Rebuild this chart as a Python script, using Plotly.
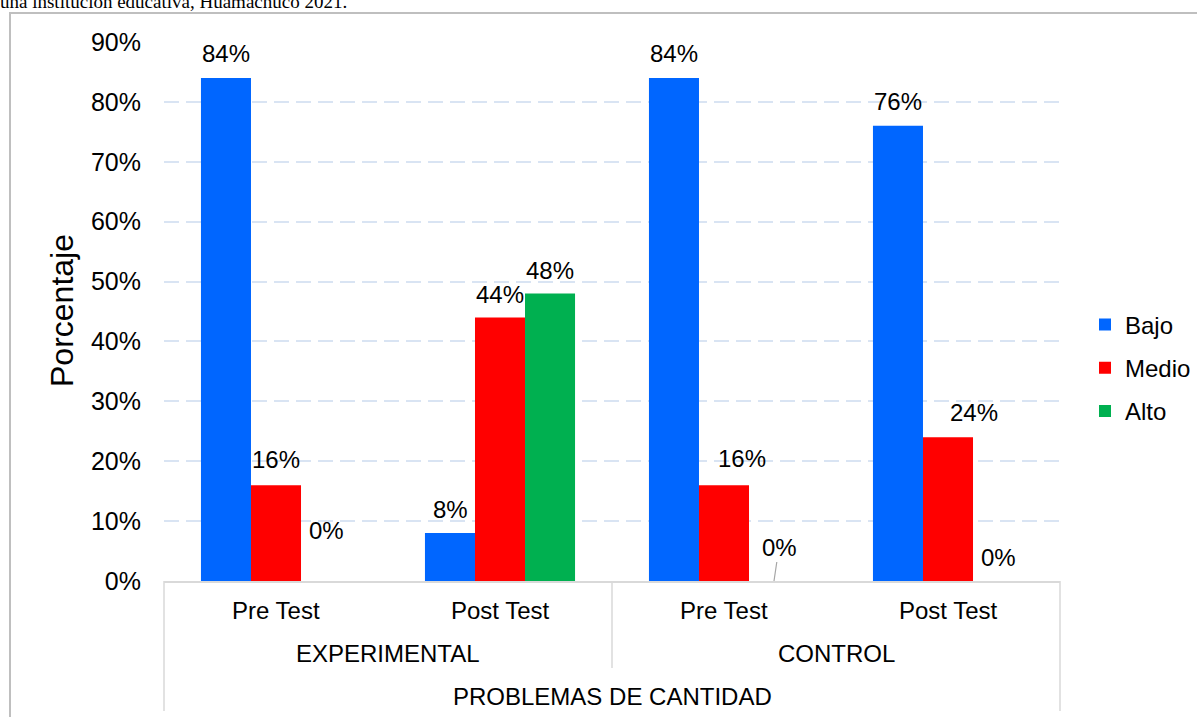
import plotly.graph_objects as go

# ---- data ----
groups = ["EXPERIMENTAL", "EXPERIMENTAL", "CONTROL", "CONTROL"]
tests = ["Pre Test", "Post Test", "Pre Test", "Post Test"]
super_label = "PROBLEMAS DE CANTIDAD"
series_names = ["Bajo", "Medio", "Alto"]
bajo = [84, 8, 84, 76]
medio = [16, 44, 16, 24]
alto = [0, 48, 0, 0]
y_ticks = [0, 10, 20, 30, 40, 50, 60, 70, 80, 90]
y_title = "Porcentaje"
caption = "una institución educativa, Huamachuco 2021."

# ---- styles ----
colors = ["#0066FF", "#FF0000", "#00B050"]
FONT = "Arial, Liberation Sans, sans-serif"
FS = 24
W, H = 1197, 717
L, R, T, B = 164, 137, 42, 136
PW, PH = W - L - R, H - T - B
AXC = "#D9D9D9"

def py(p):  # pixel y -> paper y
    return (H - B - p) / PH

def px(p):  # pixel x -> paper x
    return (p - L) / PW

fig = go.Figure()
values = [bajo, medio, alto]
for i, (name, vals) in enumerate(zip(series_names, values)):
    fig.add_trace(go.Bar(
        x=[groups, tests], y=vals, name=name,
        marker=dict(color=colors[i], line=dict(width=0)),
        legendgroup=name,
    ))

# label offsets (xshift, yshift) in pixels, per series and category
offsets = [
    [(-50, 24), (-50, 24), (-50, 24), (-50, 24)],
    [(0, 26), (0, 23), (18, 27), (26, 25)],
    [(50, 51), (50, 23), None, (50, 24)],
]
n = len(tests)
lab_font = dict(family=FONT, size=FS, color="#000")
anns = []
for s, vals in enumerate(values):
    for c, v in enumerate(vals):
        xc = (c + 0.5) / n
        off = offsets[s][c]
        if off is None:
            anns.append(dict(x=xc, xref="paper", y=v, yref="y", xshift=50,
                             text=f"{v}%", showarrow=True, arrowhead=0,
                             arrowwidth=1.2, arrowcolor="#A6A6A6",
                             ax=5, ay=-34, standoff=0,
                             xanchor="center", yanchor="middle", font=lab_font))
        else:
            anns.append(dict(x=xc, xref="paper", y=v, yref="y",
                             xshift=off[0], yshift=off[1], text=f"{v}%",
                             showarrow=False, xanchor="center", yanchor="middle",
                             font=lab_font))

# category labels
for c, t in enumerate(tests):
    anns.append(dict(x=(c + 0.5) / n, xref="paper", y=py(610), yref="paper",
                     text=t, showarrow=False, xanchor="center", yanchor="middle",
                     font=lab_font))
uniq = []
for g in groups:
    if g not in uniq:
        uniq.append(g)
for k, g in enumerate(uniq):
    anns.append(dict(x=(k + 0.5) / len(uniq), xref="paper", y=py(653), yref="paper",
                     text=g, showarrow=False, xanchor="center", yanchor="middle",
                     font=lab_font))
anns.append(dict(x=0.5, xref="paper", y=py(696), yref="paper",
                 text=super_label, showarrow=False, xanchor="center",
                 yanchor="middle", font=lab_font))
# y-axis title
anns.append(dict(x=px(62), xref="paper", y=py(311), yref="paper",
                 text=y_title, textangle=-90, showarrow=False,
                 xanchor="center", yanchor="middle",
                 font=dict(family=FONT, size=32, color="#000")))
anns.append(dict(x=px(-2), xref="paper", xanchor="left", y=py(14), yref="paper",
                 yanchor="bottom", text=caption, showarrow=False,
                 font=dict(family="Liberation Serif, Times New Roman, serif",
                           size=19, color="#000")))

shapes = [
    # outer chart border
    dict(type="rect", xref="paper", yref="paper", x0=px(10), x1=px(1210),
         y0=py(740), y1=py(13), line=dict(color="#BFBFBF", width=2), layer="below"),
    # dividers
    dict(type="line", xref="paper", yref="paper", x0=0, x1=0, y0=0, y1=py(711),
         line=dict(color=AXC, width=1.5)),
    dict(type="line", xref="paper", yref="paper", x0=1, x1=1, y0=0, y1=py(711),
         line=dict(color=AXC, width=1.5)),
    dict(type="line", xref="paper", yref="paper", x0=0.5, x1=0.5, y0=0, y1=py(668),
         line=dict(color=AXC, width=1.5)),
]

fig.update_layout(
    width=W, height=H,
    margin=dict(l=L, r=R, t=T, b=B, pad=0, autoexpand=False),
    paper_bgcolor="white", plot_bgcolor="white",
    barmode="group", bargap=0.33, bargroupgap=0,
    font=dict(family=FONT, size=FS, color="#000"),
    showlegend=True,
    legend=dict(x=px(1085), xanchor="left", y=py(368), yanchor="middle",
                font=dict(family=FONT, size=FS, color="#000"),
                tracegroupgap=9, itemwidth=30, bgcolor="rgba(0,0,0,0)"),
    annotations=anns, shapes=shapes,
)
fig.update_xaxes(showticklabels=False, showdividers=False, ticks="",
                 range=[-0.5, len(tests) - 0.5],
                 showline=True, linecolor=AXC, linewidth=1.5, showgrid=False,
                 zeroline=False)
fig.update_yaxes(range=[0, 90], tickmode="array", tickvals=y_ticks,
                 ticktext=[f"{v}%" for v in y_ticks],
                 showgrid=True, gridcolor="#D9E4F3", gridwidth=1.5,
                 griddash="15px,7px", zeroline=False, showline=False,
                 ticks="", ticklabelstandoff=22,
                 tickfont=dict(family=FONT, size=25, color="#000"))

fig.write_html("out.html", config={"displayModeBar": False})
with open("out.html", encoding="utf-8") as f:
    html = f.read()
html = html.replace("<head>", "<head><style>html,body{margin:0;padding:0;overflow:hidden}</style>", 1)
with open("out.html", "w", encoding="utf-8") as f:
    f.write(html)
